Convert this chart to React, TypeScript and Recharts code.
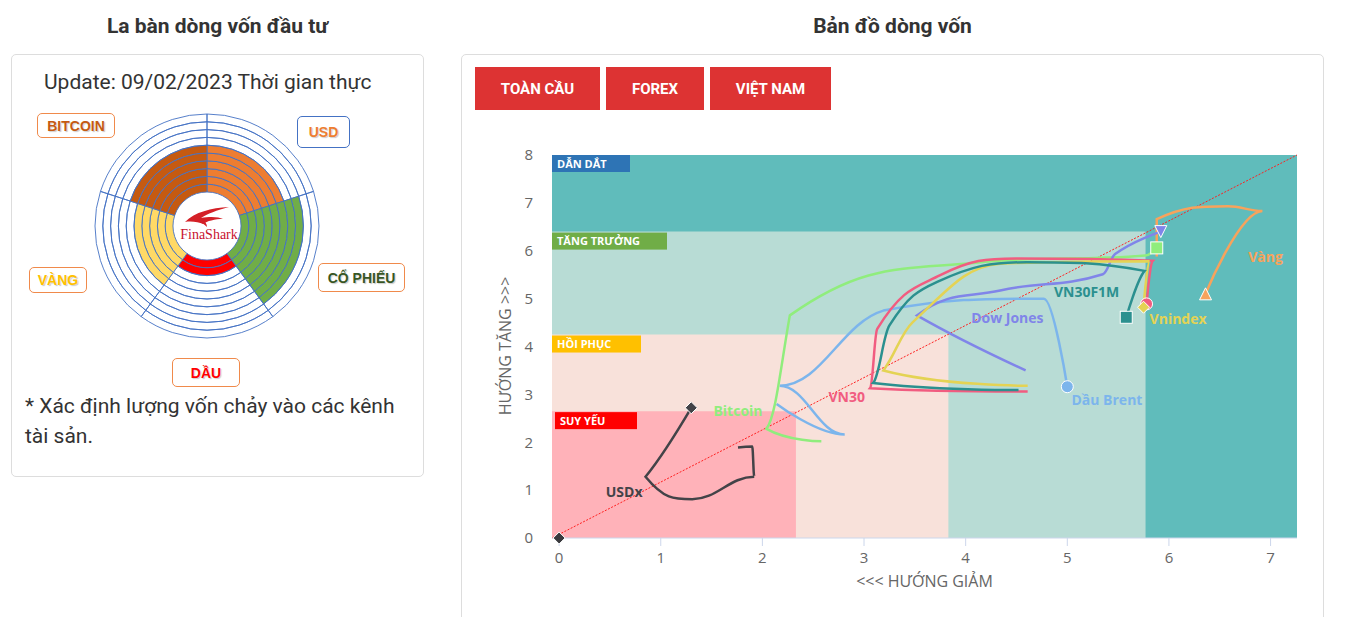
import React from "react";
import {
  ComposedChart,
  Line,
  XAxis,
  YAxis,
  ReferenceArea,
  ReferenceLine,
  ReferenceDot,
  PieChart,
  Pie,
  Cell,
} from "recharts";

// ---------- La bàn dòng vốn (các ô theo chiều kim đồng hồ từ 12h) ----------
const compassNames = ["USD", "CỔ PHIẾU", "DẦU", "VÀNG", "BITCOIN"];
const compassLevels = [6, 8, 2, 5, 6];
const compassColors = ["#ed7d31", "#70ad47", "#ff0000", "#ffd966", "#c55a11"];
const compassRings = 10;

// ---------- Bản đồ dòng vốn ----------
const xTicks = [0, 1, 2, 3, 4, 5, 6, 7];
const yTicks = [0, 1, 2, 3, 4, 5, 6, 7, 8];
const xDomain: [number, number] = [-0.07, 7.26];
const yDomain: [number, number] = [0, 8];

// các vùng (góc trên phải của từng vùng)
const zoneNames = ["DẪN DẮT", "TĂNG TRƯỞNG", "HỒI PHỤC", "SUY YẾU"];
const zoneX = [7.26, 5.77, 3.83, 2.33];
const zoneY = [8, 6.4, 4.25, 2.65];

// các đường [x, y], điểm cuối là vị trí hiện tại
const dauBrent = [[2.14, 2.8], [2.81, 2.16], [2.17, 3.18], [3.19, 4.75], [4.77, 5.0], [5.0, 3.16]];
const usdx = [[1.76, 1.89], [1.9, 1.91], [1.92, 1.28], [1.31, 0.81], [0.85, 1.28], [1.3, 2.72]];
const bitcoin = [[2.58, 2.02], [2.04, 2.28], [2.27, 4.65], [4.1, 5.75], [5.77, 5.9], [5.88, 6.06]];
const vang = [[5.88, 5.88], [5.88, 6.66], [6.58, 6.93], [6.92, 6.83], [6.36, 5.1]];
const dowJones = [[4.59, 3.5], [3.52, 4.65], [4.34, 5.17], [5.35, 5.51], [5.47, 5.93], [5.92, 6.4]];
const vn30 = [[4.61, 3.06], [3.06, 3.13], [3.13, 4.37], [3.75, 5.49], [4.5, 5.84], [5.84, 5.79], [5.78, 4.89]];
const vnindex = [[4.61, 3.18], [3.19, 3.5], [3.48, 4.51], [4.34, 5.73], [5.81, 5.78], [5.75, 4.82]];
const vn30f1m = [[4.52, 3.09], [3.09, 3.24], [3.25, 4.44], [3.72, 5.35], [4.6, 5.76], [5.76, 5.58], [5.58, 4.61]];
const goc = [[0, 0]];

const seriesNames = ["Dầu Brent", "USDx", "Bitcoin", "Vàng", "Dow Jones", "VN30", "Vnindex", "VN30F1M"];
const seriesData = [dauBrent, usdx, bitcoin, vang, dowJones, vn30, vnindex, vn30f1m];
const labelX = [5.39, 0.64, 1.76, 6.95, 4.41, 2.83, 6.09, 5.19];
const labelY = [2.89, 0.96, 2.66, 5.86, 4.59, 2.95, 4.57, 5.13];

const seriesColors = ["#7cb5ec", "#434348", "#90ed7d", "#f7a35c", "#8085e9", "#f15c80", "#e4d354", "#2b908f"];
const seriesSymbols = ["circle", "diamond", "square", "triangle", "triangle-down", "circle", "diamond", "square"];
const zoneFills = ["#60bcbb", "#b8dcd5", "#f8e1da", "#ffb2b9"];
const zoneTagColors = ["#2e74b5", "#70ad47", "#ffc000", "#ff0000"];
const zoneTagWidths = [78, 115, 89, 82];

// đường cong kiểu spline của Highcharts (có góc gãy khi x đổi chiều)
function hcSpline(context: any) {
  let pts: number[][] = [];
  return {
    areaStart() {},
    areaEnd() {},
    lineStart() {
      pts = [];
    },
    point(x: number, y: number) {
      pts.push([+x, +y]);
    },
    lineEnd() {
      const n = pts.length;
      if (!n) return;
      const s = 1.5;
      const d = s + 1;
      context.moveTo(pts[0][0], pts[0][1]);
      let prevR = pts[0];
      for (let i = 1; i < n; i++) {
        const [px, py] = pts[i];
        let lX = px, lY = py, rX = px, rY = py;
        if (i < n - 1) {
          const [ax, ay] = pts[i - 1];
          const [bx, by] = pts[i + 1];
          lX = (s * px + ax) / d;
          lY = (s * py + ay) / d;
          rX = (s * px + bx) / d;
          rY = (s * py + by) / d;
          let c = 0;
          if (rX !== lX) c = ((rY - lY) * (rX - px)) / (rX - lX) + py - rY;
          lY += c;
          rY += c;
          if (lY > ay && lY > py) {
            lY = Math.max(ay, py);
            rY = 2 * py - lY;
          } else if (lY < ay && lY < py) {
            lY = Math.min(ay, py);
            rY = 2 * py - lY;
          }
          if (rY > by && rY > py) {
            rY = Math.max(by, py);
            lY = 2 * py - rY;
          } else if (rY < by && rY < py) {
            rY = Math.min(by, py);
            lY = 2 * py - rY;
          }
        }
        context.bezierCurveTo(prevR[0], prevR[1], lX, lY, px, py);
        prevR = [rX, rY];
      }
    },
  };
}

const toPoints = (arr: number[][]) => arr.map(([x, y]) => ({ x, y }));

function Marker({ cx, cy, symbol, color }: { cx: number; cy: number; symbol: string; color: string }) {
  const r = 6;
  const common = { fill: color, stroke: "#fff", strokeWidth: 1 };
  if (symbol === "circle") return <circle cx={cx} cy={cy} r={r} {...common} />;
  if (symbol === "square") return <rect x={cx - r} y={cy - r} width={2 * r} height={2 * r} {...common} />;
  if (symbol === "diamond")
    return <path d={`M${cx},${cy - r}L${cx + r},${cy}L${cx},${cy + r}L${cx - r},${cy}Z`} {...common} />;
  if (symbol === "triangle")
    return <path d={`M${cx},${cy - r}L${cx + r},${cy + r}L${cx - r},${cy + r}Z`} {...common} />;
  return <path d={`M${cx - r},${cy - r}L${cx + r},${cy - r}L${cx},${cy + r}Z`} {...common} />;
}

const makeDot = (symbol: string, color: string, last: number) => (props: any) => {
  const { cx, cy, index } = props;
  if (index !== last || cx == null) return <g key={`d-${index}`} />;
  return <Marker key={`d-${index}`} cx={cx} cy={cy} symbol={symbol} color={color} />;
};

function ZoneTag({ viewBox, text, color, width }: any) {
  if (!viewBox) return null;
  const x = viewBox.x + (text === "SUY YẾU" ? 3 : 0);
  const y = viewBox.y + (text === "DẪN DẮT" ? 0 : 1);
  return (
    <g>
      <rect x={x} y={y} width={width} height={17} fill={color} />
      <text x={x + 5} y={y + 12.5} fill="#fff" fontSize={11} fontWeight={700} fontFamily="Open Sans">
        {text}
      </text>
    </g>
  );
}

function CapitalMap() {
  return (
    <ComposedChart
      width={860}
      height={497}
      margin={{ top: 35, right: 25, left: 30, bottom: 19 }}
      style={{ fontFamily: "Open Sans" }}
    >
      <XAxis
        dataKey="x"
        type="number"
        domain={xDomain}
        ticks={xTicks}
        height={60}
        axisLine={{ stroke: "#ccd6eb" }}
        tickLine={{ stroke: "#ccd6eb" }}
        tickSize={8}
        tickMargin={6}
        tick={{ fill: "#666", fontSize: 15 }}
      />
      <YAxis
        type="number"
        domain={yDomain}
        ticks={yTicks}
        width={60}
        axisLine={false}
        tickLine={false}
        tickSize={0}
        tickMargin={19}
        tick={{ fill: "#666", fontSize: 15 }}
      />
      {zoneNames.map((name, i) => (
        <ReferenceArea
          key={name}
          x1={xDomain[0]}
          x2={zoneX[i]}
          y1={yDomain[0]}
          y2={zoneY[i]}
          fill={zoneFills[i]}
          fillOpacity={1}
          stroke="none"
          label={(p: any) => (
            <ZoneTag viewBox={p.viewBox} text={name} color={zoneTagColors[i]} width={zoneTagWidths[i]} />
          )}
        />
      ))}
      <ReferenceLine
        segment={[
          { x: xDomain[0], y: yDomain[0] },
          { x: xDomain[1], y: yDomain[1] },
        ]}
        stroke="#ff2020"
        strokeWidth={1}
        strokeDasharray="2 1.5"
      />
      <Line
        data={toPoints(goc)}
        dataKey="y"
        stroke="none"
        isAnimationActive={false}
        dot={makeDot("diamond", "#3a3a3e", 0)}
        activeDot={false}
      />
      {seriesData.map((arr, i) => (
        <Line
          key={seriesNames[i]}
          data={toPoints(arr)}
          dataKey="y"
          type={hcSpline as any}
          stroke={seriesColors[i]}
          strokeWidth={2.5}
          isAnimationActive={false}
          dot={makeDot(seriesSymbols[i], seriesColors[i], arr.length - 1)}
          activeDot={false}
        />
      ))}
      {seriesNames.map((name, i) => (
        <ReferenceDot
          key={"lbl-" + name}
          x={labelX[i]}
          y={labelY[i]}
          r={0}
          fill="none"
          stroke="none"
          label={{
            value: name,
            position: "center",
            fill: seriesColors[i],
            fontSize: 14,
            fontWeight: 700,
          }}
        />
      ))}
    </ComposedChart>
  );
}

function Compass() {
  const data = compassNames.map((name) => ({ name, value: 1 }));
  const ring = 7.8;
  const inner = 34;
  return (
    <PieChart width={240} height={240} margin={{ top: 0, right: 0, bottom: 0, left: 0 }}>
      {Array.from({ length: compassRings }, (_, r) => (
        <Pie
          key={r}
          data={data}
          dataKey="value"
          cx={120}
          cy={120}
          innerRadius={inner + r * ring}
          outerRadius={inner + (r + 1) * ring}
          startAngle={90}
          endAngle={-270}
          isAnimationActive={false}
        >
          {data.map((d, i) => (
            <Cell
              key={d.name}
              fill={compassLevels[i] > r ? compassColors[i] : "none"}
              stroke="#4472c4"
              strokeWidth={0.9}
            />
          ))}
        </Pie>
      ))}
    </PieChart>
  );
}

const boxText: React.CSSProperties = {
  position: "absolute",
  border: "1px solid #f08a4b",
  borderRadius: 5,
  background: "#fff",
  fontFamily: "Liberation Sans, Arial",
  fontWeight: 700,
  fontSize: 14,
  display: "flex",
  alignItems: "center",
  justifyContent: "center",
  textShadow: "0 0 2px #fff, 1px 1px 1px rgba(0,0,0,0.25)",
  boxSizing: "border-box",
};

const btn: React.CSSProperties = {
  position: "absolute",
  top: 67,
  height: 43,
  background: "#dd3333",
  color: "#fff",
  fontWeight: 700,
  fontSize: 15,
  display: "flex",
  alignItems: "center",
  justifyContent: "center",
};

export default function App() {
  return (
    <div
      style={{
        position: "absolute",
        left: 0,
        top: 0,
        width: 1349,
        height: 617,
        overflow: "hidden",
        background: "#fff",
        fontFamily: "Roboto",
        color: "#333",
      }}
    >
      {/* tiêu đề */}
      <div style={{ position: "absolute", left: 11, width: 413, top: 12, textAlign: "center", fontSize: 21, fontWeight: 700, lineHeight: "28px" }}>
        La bàn dòng vốn đầu tư
      </div>
      <div style={{ position: "absolute", left: 461, width: 863, top: 12, textAlign: "center", fontSize: 21, fontWeight: 700, lineHeight: "28px" }}>
        Bản đồ dòng vốn
      </div>

      {/* thẻ trái */}
      <div style={{ position: "absolute", left: 11, top: 54, width: 413, height: 423, border: "1px solid #ddd", borderRadius: 5, boxSizing: "border-box" }} />
      <div style={{ position: "absolute", left: 44, top: 68, fontSize: 21, lineHeight: "28px", whiteSpace: "nowrap" }}>
        Update: 09/02/2023 Thời gian thực
      </div>
      <div style={{ position: "absolute", left: 87, top: 106 }}>
        <Compass />
      </div>
      <svg style={{ position: "absolute", left: 177, top: 200 }} width={64} height={48}>
        <path d="M8,22 C18,12 34,8 52,7 C40,10 30,14 24,18 C34,16 42,17 46,19 C38,19 30,21 26,24 C22,22 14,21 8,22 Z" fill="#d42027" />
        <path d="M24,18 C28,21 30,24 30,27 C27,24 24,22 20,21 Z" fill="#d42027" />
        <text x={32} y={39} textAnchor="middle" fontFamily="Liberation Serif, DejaVu Serif" fontSize={14} fill="#c8102e">
          FinaShark
        </text>
      </svg>
      <div style={{ ...boxText, left: 37, top: 113, width: 78, height: 25, color: "#c55a11" }}>BITCOIN</div>
      <div style={{ ...boxText, left: 297, top: 116, width: 53, height: 32, color: "#ed7d31", borderColor: "#4472c4" }}>USD</div>
      <div style={{ ...boxText, left: 318, top: 263, width: 87, height: 29, color: "#375623" }}>CỔ PHIẾU</div>
      <div style={{ ...boxText, left: 29, top: 267, width: 58, height: 26, color: "#ffc000" }}>VÀNG</div>
      <div style={{ ...boxText, left: 172, top: 358, width: 68, height: 29, color: "#ff0000" }}>DẦU</div>
      <div style={{ position: "absolute", left: 25, top: 391, fontSize: 21, lineHeight: "30px", whiteSpace: "nowrap" }}>
        * Xác định lượng vốn chảy vào các kênh
        <br />
        tài sản.
      </div>

      {/* thẻ phải */}
      <div style={{ position: "absolute", left: 461, top: 54, width: 863, height: 620, border: "1px solid #ddd", borderRadius: 5, boxSizing: "border-box" }} />
      <div style={{ ...btn, left: 475, width: 125 }}>TOÀN CẦU</div>
      <div style={{ ...btn, left: 606, width: 98 }}>FOREX</div>
      <div style={{ ...btn, left: 710, width: 121 }}>VIỆT NAM</div>

      <div style={{ position: "absolute", left: 462, top: 120 }}>
        <CapitalMap />
      </div>
      <div
        style={{
          position: "absolute",
          left: 552,
          width: 745,
          top: 570,
          textAlign: "center",
          fontFamily: "Open Sans",
          fontSize: 16,
          color: "#666",
          lineHeight: "22px",
        }}
      >
        {"<<< HƯỚNG GIẢM"}
      </div>
      <div
        style={{
          position: "absolute",
          left: 505 - 100,
          top: 346 - 11,
          width: 200,
          textAlign: "center",
          fontFamily: "Open Sans",
          fontSize: 16,
          color: "#666",
          lineHeight: "22px",
          transform: "rotate(-90deg)",
        }}
      >
        {"HƯỚNG TĂNG >>>"}
      </div>
    </div>
  );
}
